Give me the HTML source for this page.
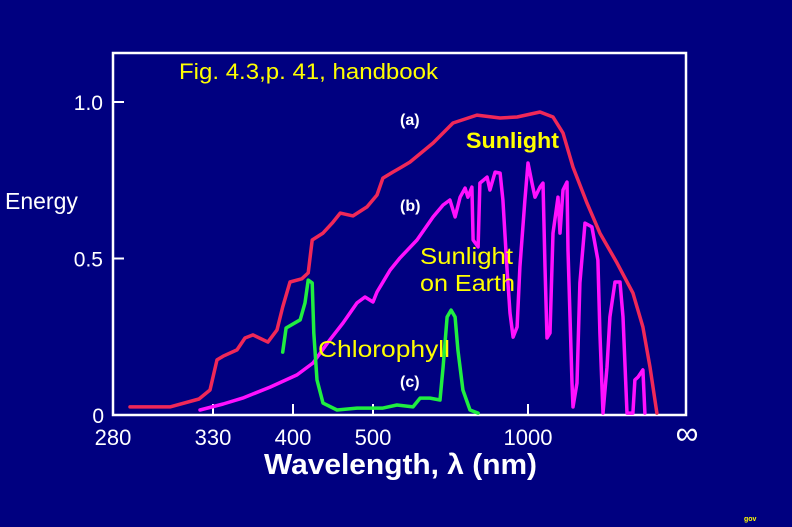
<!DOCTYPE html>
<html><head><meta charset="utf-8"><style>
html,body{margin:0;padding:0;background:#000080;}
svg{display:block;font-family:"Liberation Sans",sans-serif;}
</style></head><body>
<svg id="chart" width="792" height="527" viewBox="0 0 792 527">
<rect x="0" y="0" width="792" height="527" fill="#000080"/>
<rect x="113" y="53" width="573" height="362" fill="none" stroke="#fff" stroke-width="2.5"/>
<g id="axes"></g>
<g id="series"></g>
<text x="179" y="79" fill="#ffff00" font-size="22" textLength="259" lengthAdjust="spacingAndGlyphs">Fig. 4.3,p. 41, handbook</text>
<text x="5" y="209" fill="#fff" font-size="23">Energy</text>
<text x="264" y="474" fill="#fff" font-size="29" font-weight="bold" textLength="273" lengthAdjust="spacingAndGlyphs">Wavelength, λ (nm)</text>
<text x="400" y="125" fill="#fff" font-size="16" font-weight="bold">(a)</text>
<text x="466" y="148" fill="#ffff00" font-size="22" font-weight="bold" textLength="93" lengthAdjust="spacingAndGlyphs">Sunlight</text>
<text x="400" y="211" fill="#fff" font-size="16" font-weight="bold">(b)</text>
<text x="420" y="264" fill="#ffff00" font-size="23" textLength="93" lengthAdjust="spacingAndGlyphs">Sunlight</text>
<text x="420" y="291" fill="#ffff00" font-size="23" textLength="95" lengthAdjust="spacingAndGlyphs">on Earth</text>
<text x="318" y="357" fill="#ffff00" font-size="23" textLength="132" lengthAdjust="spacingAndGlyphs">Chlorophyll</text>
<text x="400" y="387" fill="#fff" font-size="16" font-weight="bold">(c)</text>
<text x="744" y="521" fill="#ffff00" font-size="7" font-weight="bold">gov</text>
</svg>
<script>
const xTickValues=[280,330,400,500,1000,2500];
const xTickLabels=["280","330","400","500","1000","∞"];
const yTickValues=[0,0.5,1.0];
const yTickLabels=["0","0.5","1.0"];
const sunWl=[288.5,308.5,323,328.5,333.5,338.8,351,358,365,378,386,391,397.4,411,419,424,437.5,449,459,475,492.5,513,532,564,587,619,694,758,835,910,965,1114,1237,1332,1427,1560,1683,1845,1996,2091,2158,2224];
const sunE=[0.026,0.026,0.051,0.080,0.176,0.188,0.208,0.246,0.256,0.233,0.272,0.345,0.425,0.435,0.454,0.559,0.581,0.613,0.645,0.636,0.665,0.703,0.757,0.776,0.789,0.808,0.869,0.933,0.958,0.949,0.952,0.968,0.952,0.901,0.792,0.677,0.581,0.486,0.390,0.281,0.153,0.006];
const earthWl=[323.5,338.8,356,380,405,425,446,462.5,480,490,500,513,555,587,642,694,726,748,765,781,797,806,819,823,839,845,868,877,894,910,919,932,942,952,965,974,990,1000,1038,1066,1114,1142,1161,1180,1209,1237,1285,1304,1332,1370,1380,1418,1427,1465,1493,1541,1607,1664,1683,1712,1750,1778,1826,1873,1902,1940,1996,2015,2044,2091,2110];
const earthE=[0.016,0.035,0.054,0.089,0.128,0.166,0.240,0.294,0.358,0.377,0.361,0.393,0.463,0.502,0.559,0.633,0.671,0.687,0.633,0.696,0.725,0.696,0.728,0.559,0.537,0.741,0.760,0.719,0.776,0.773,0.687,0.473,0.326,0.249,0.281,0.473,0.687,0.805,0.741,0.696,0.728,0.741,0.473,0.246,0.262,0.581,0.696,0.581,0.719,0.744,0.527,0.102,0.026,0.102,0.422,0.613,0.601,0.495,0.262,0.006,0.153,0.313,0.425,0.425,0.313,0.006,0.006,0.112,0.121,0.144,0.006];
const chlWl=[391,394,409,415,419,424,426,430,437.5,455,480,532,577,629,652,684,716,726,739,752,765,774,790,813,839];
const chlE=[0.201,0.278,0.304,0.358,0.431,0.422,0.262,0.112,0.038,0.016,0.022,0.022,0.032,0.026,0.054,0.054,0.048,0.153,0.313,0.335,0.313,0.208,0.080,0.016,0.006];

const xKnotPx=[113,213,293,373,528,686];
function xScale(w){
  for(let i=0;i<xTickValues.length-1;i++){
    if(w<=xTickValues[i+1]||i===xTickValues.length-2){
      const t=(w-xTickValues[i])/(xTickValues[i+1]-xTickValues[i]);
      return xKnotPx[i]+t*(xKnotPx[i+1]-xKnotPx[i]);
    }
  }
}
function yScale(v){return 415-313*v;}
const NS="http://www.w3.org/2000/svg";
const axes=document.getElementById('axes');
const series=document.getElementById('series');
xTickValues.forEach((v,i)=>{
  const x=xScale(v);
  const last=i===xTickValues.length-1;
  if(i>0&&!last){
    const t=document.createElementNS(NS,'line');
    t.setAttribute('x1',x);t.setAttribute('x2',x);t.setAttribute('y1',415);t.setAttribute('y2',404);
    t.setAttribute('stroke','#fff');t.setAttribute('stroke-width','2');
    
    
    axes.appendChild(t);
  }
  const l=document.createElementNS(NS,'text');
  l.setAttribute('x',last?687:x);l.setAttribute('y',last?444:445);
  l.setAttribute('text-anchor','middle');l.setAttribute('fill','#fff');
  l.setAttribute('font-size',last?'32':'22');
  l.textContent=xTickLabels[i];
  
  
  axes.appendChild(l);
});
yTickValues.forEach((v,i)=>{
  const y=yScale(v);
  if(v>0){
    const t=document.createElementNS(NS,'line');
    t.setAttribute('x1',113);t.setAttribute('x2',124);t.setAttribute('y1',y);t.setAttribute('y2',y);
    t.setAttribute('stroke','#fff');t.setAttribute('stroke-width','2');
    
    
    axes.appendChild(t);
  }
  const l=document.createElementNS(NS,'text');
  l.setAttribute('x',v===0?104:103);l.setAttribute('y',y+8);
  l.setAttribute('text-anchor','end');l.setAttribute('fill','#fff');l.setAttribute('font-size','21');
  l.textContent=yTickLabels[i];
  
  
  axes.appendChild(l);
});
function drawLine(wl,e,color,name){
  const p=document.createElementNS(NS,'polyline');
  p.setAttribute('points',wl.map((w,i)=>xScale(w).toFixed(1)+','+yScale(e[i]).toFixed(1)).join(' '));
  p.setAttribute('fill','none');p.setAttribute('stroke',color);p.setAttribute('stroke-width','3.5');
  p.setAttribute('stroke-linejoin','round');p.setAttribute('stroke-linecap','round');
  
  
  series.appendChild(p);
}
drawLine(sunWl,sunE,'#f02858','sunlight-curve');
drawLine(earthWl,earthE,'#ff10ff','sunlight-on-earth-curve');
drawLine(chlWl,chlE,'#20ee40','chlorophyll-curve');
</script>
</body></html>
